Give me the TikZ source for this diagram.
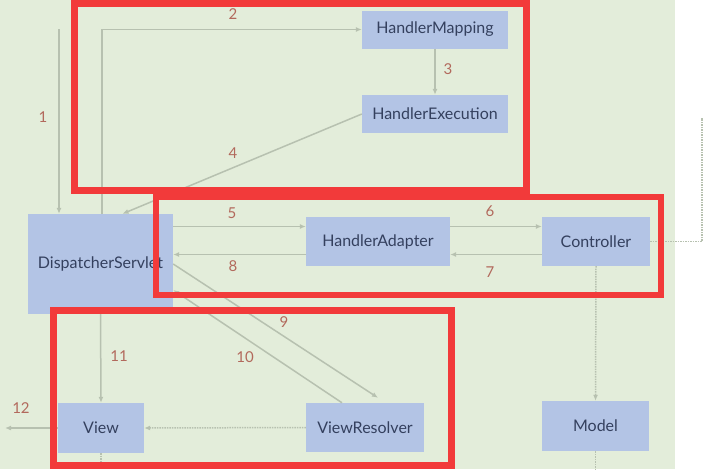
\documentclass[tikz,border=0pt]{standalone}
\usepackage{fontspec}
\setmainfont{Lato}
\usepackage{xcolor}
\definecolor{bggreen}{HTML}{E3EDDA}
\definecolor{boxblue}{HTML}{B3C4E5}
\definecolor{boxtext}{HTML}{34405E}
\definecolor{flowgray}{HTML}{B7C1B0}
\definecolor{stepred}{HTML}{B2695C}
\definecolor{framered}{HTML}{F23A3A}
\usetikzlibrary{arrows.meta}
\usetikzlibrary{calc}
\usetikzlibrary{positioning}

\begin{document}
\begin{tikzpicture}[x=1pt, y=-1pt,
    comp/.style={fill=boxblue, text=boxtext, font=\fontsize{16}{19}\selectfont,
      inner sep=0pt, minimum height=38pt},
    flow/.style={draw=flowgray, line width=1.5pt, -{Latex[length=6pt,width=5pt]}},
    dotflow/.style={flow, densely dotted},
    num/.style={text=stepred, font=\fontsize{15}{18}\selectfont, inner sep=0pt},
    frame/.style={draw=framered, line width=6.5pt}] % Spring MVC request flow

      \useasboundingbox (0,0) rectangle (704,469);
      \fill [white] (0,0) rectangle (704,469);
      \fill [bggreen] (0,0) rectangle (675,469);

      % components
      \node [comp, minimum width=146pt] (hm) at (435,29.5) {HandlerMapping};
      \node [comp, minimum width=146pt] (he) at (435,114) {HandlerExecution};
      \node [comp, minimum width=145pt, minimum height=100pt] (ds) at (100.5,264) {DispatcherServlet};
      \node [comp, minimum width=144pt, minimum height=49pt] (ha) at (378,241.5) {HandlerAdapter};
      \node [comp, minimum width=108pt, minimum height=49pt] (ctl) at (596,241.5) {Controller};
      \node [comp, minimum width=86pt, minimum height=50pt] (vw) at (101,428) {View};
      \node [comp, minimum width=118pt, minimum height=49pt] (vr) at (365,427.5) {ViewResolver};
      \node [comp, minimum width=107pt, minimum height=50pt] (mdl) at (595.5,426) {Model};

      \coordinate (in) at (59,29);
      \coordinate (out) at (5,428);
      \coordinate (r5) at ([yshift=15pt]ha.west);
      \coordinate (r8) at ([yshift=-13pt]ha.west);
      \coordinate (edge) at (702,118);

      % connectors
      \draw [flow] (in) -- (in |- ds.north);
      \draw [flow] ([xshift=1.5pt]ds.north) |- (hm.west);
      \draw [flow] (hm.south) -- (he.north);
      \draw [flow] (he.west) -- ([xshift=22pt]ds.north);
      \draw [flow] (r5 -| ds.east) -- (r5);
      \draw [flow] (r8) -- (r8 -| ds.east);
      \draw [flow] (r5 -| ha.east) -- (r5 -| ctl.west);
      \draw [flow] (r8 -| ctl.west) -- (r8 -| ha.east);
      \draw [flow] (ds.east) -- ([xshift=13pt,yshift=5pt]vr.north);
      \draw [flow] ([xshift=-23pt]vr.north) -- ([yshift=-26pt]ds.east);
      \draw [flow] (ds.south) -- (vw.north);
      \draw [flow] (vw.west) -- (out);
      \draw [dotflow] (vr.west) -- (vw.east);
      \draw [dotflow] (ctl.south) -- (mdl.north);
      \draw [dotflow, -] (vw.south) -- ++(0,16);
      \draw [dotflow, -] (mdl.south) -- ++(0,18);
      \draw [dotflow, -] (ctl.east) -| (edge);

      % step numbers
      \node [num] (n1) at (43,117) {1};
      \node [num] (n2) at (233,14) {2};
      \node [num] (n3) at (448,69) {3};
      \node [num] (n4) at (233,153) {4};
      \node [num] (n5) at (232,213) {5};
      \node [num] (n6) at (490,211) {6};
      \node [num] (n7) at (490,272) {7};
      \node [num] (n8) at (233,266) {8};
      \node [num] (n9) at (284,322) {9};
      \node [num] (n10) at (245,357) {10};
      \node [num] (n11) at (119,356) {11};
      \node [num] (n12) at (21,408) {12};

      % highlight frames
      \draw [frame, line width=7pt] (74.5,3.5) rectangle (526.5,190);
      \draw [frame, line width=6pt] (155.5,196.5) rectangle (660.5,295);
      \draw [frame] (53.5,310.5) rectangle (451.5,465.5);

    \end{tikzpicture}
\end{document}
